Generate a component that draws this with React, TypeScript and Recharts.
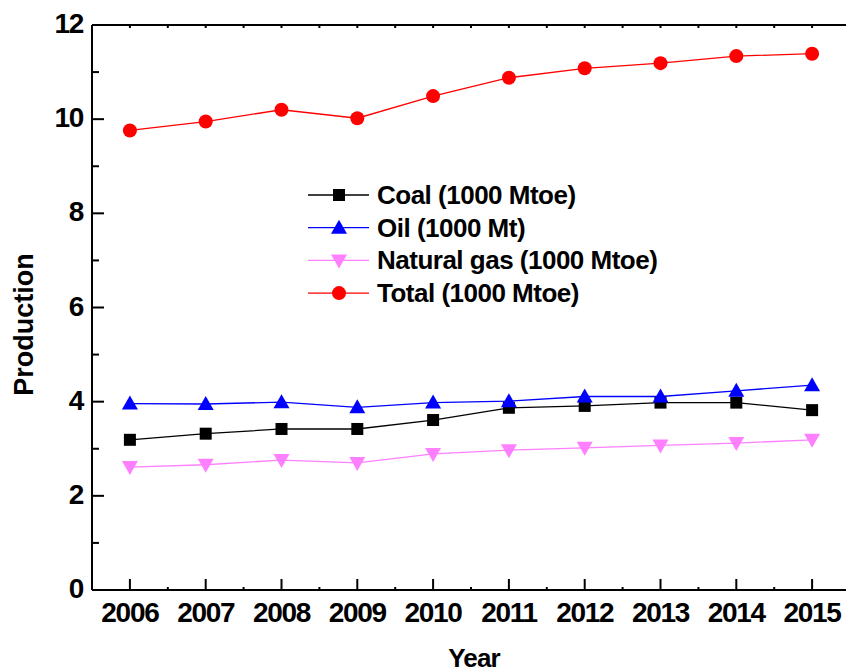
import React from 'react';
import { LineChart, Line, XAxis, YAxis, Legend } from 'recharts';

const years = [2006, 2007, 2008, 2009, 2010, 2011, 2012, 2013, 2014, 2015];
const coal = [3.19, 3.32, 3.42, 3.42, 3.61, 3.87, 3.91, 3.98, 3.98, 3.82];
const oil = [3.96, 3.95, 3.99, 3.88, 3.98, 4.01, 4.11, 4.11, 4.23, 4.35];
const naturalGas = [2.61, 2.66, 2.76, 2.70, 2.89, 2.97, 3.02, 3.07, 3.12, 3.19];
const total = [9.76, 9.95, 10.2, 10.02, 10.49, 10.88, 11.08, 11.19, 11.34, 11.39];

const xTicks = [2006, 2006.5, 2007, 2007.5, 2008, 2008.5, 2009, 2009.5, 2010, 2010.5, 2011, 2011.5, 2012, 2012.5, 2013, 2013.5, 2014, 2014.5, 2015, 2015.5];
const topTicks = [2005.5, ...xTicks];
const yTicks = [0, 1, 2, 3, 4, 5, 6, 7, 8, 9, 10, 11, 12];

const FONT = '"Liberation Sans", Arial, sans-serif';

const series = [
    { key: 'coal', name: 'Coal (1000 Mtoe)', color: '#000000', shape: 'square' },
    { key: 'oil', name: 'Oil (1000 Mt)', color: '#0000ff', shape: 'up' },
    { key: 'gas', name: 'Natural gas (1000 Mtoe)', color: '#ff80ff', shape: 'down' },
    { key: 'total', name: 'Total (1000 Mtoe)', color: '#ff0000', shape: 'circle' },
];

const data = years.map((year, i) => ({
    year,
    coal: coal[i],
    oil: oil[i],
    gas: naturalGas[i],
    total: total[i],
}));

function Marker({ cx, cy, shape, color }: any) {
    if (cx == null || cy == null) return null;
    if (shape === 'square') {
        return <rect x={cx - 6} y={cy - 6} width={12} height={12} fill={color} />;
    }
    if (shape === 'up') {
        return <polygon points={`${cx},${cy - 8} ${cx - 8},${cy + 6} ${cx + 8},${cy + 6}`} fill={color} />;
    }
    if (shape === 'down') {
        return <polygon points={`${cx},${cy + 8} ${cx - 8},${cy - 6} ${cx + 8},${cy - 6}`} fill={color} />;
    }
    return <circle cx={cx} cy={cy} r={7} fill={color} />;
}

function XTick({ x, y, payload }: any) {
    const v = payload.value;
    const major = Number.isInteger(v);
    return (
        <g>
            <line x1={x} x2={x} y1={y} y2={y - (major ? 11 : 3)} stroke="#000" strokeWidth={2} />
            {major && (
                <text x={x} y={y + 32} textAnchor="middle" fontFamily={FONT} fontWeight="bold"
                    fontSize={28} letterSpacing={-1.3} fill="#000">
                    {v}
                </text>
            )}
        </g>
    );
}

function TopTick({ x, y }: any) {
    return <line x1={x} x2={x} y1={y} y2={y + 3} stroke="#000" strokeWidth={2} />;
}

function YTick({ x, y, payload }: any) {
    const v = payload.value;
    const major = v % 2 === 0;
    return (
        <g>
            <line x1={x} x2={x + (major ? 12 : 7)} y1={y} y2={y} stroke="#000" strokeWidth={2} />
            {major && (
                <text x={x - 9} y={y + 8} textAnchor="end" fontFamily={FONT} fontWeight="bold"
                    fontSize={28} letterSpacing={-1.3} fill="#000">
                    {v}
                </text>
            )}
        </g>
    );
}

function LegendBox() {
    return (
        <svg width={380} height={140}>
            {series.map((s, i) => {
                const cy = 20 + i * 32.7;
                return (
                    <g key={s.key}>
                        <line x1={8} x2={69} y1={cy} y2={cy} stroke={s.color} strokeWidth={1.3} />
                        <Marker cx={39} cy={cy} shape={s.shape} color={s.color} />
                        <text x={77} y={cy + 9} fontFamily={FONT} fontWeight="bold" fontSize={26}
                            letterSpacing={-0.5} fill="#000">
                            {s.name}
                        </text>
                    </g>
                );
            })}
        </svg>
    );
}

export default function App() {
    return (
        <div style={{ position: 'absolute', left: 0, top: 0, width: 846, height: 672, background: '#fff' }}>
            <LineChart width={846} height={672} data={data} margin={{ top: 15, right: -4, bottom: 22, left: 32 }}>
                <XAxis
                    dataKey="year"
                    type="number"
                    domain={[2005.5, 2015.5]}
                    ticks={xTicks}
                    interval={0}
                    height={60}
                    tickSize={0}
                    tickMargin={0}
                    tickLine={false}
                    axisLine={{ stroke: '#000', strokeWidth: 2 }}
                    tick={<XTick />}
                    label={{
                        content: ({ viewBox }: any) => (
                            <text x={viewBox.x + viewBox.width / 2 + 3} y={viewBox.y + 77} textAnchor="middle"
                                fontFamily={FONT} fontWeight="bold" fontSize={26} letterSpacing={-0.8} fill="#000">
                                Year
                            </text>
                        ),
                    }}
                />
                <XAxis
                    xAxisId="top"
                    orientation="top"
                    dataKey="year"
                    type="number"
                    domain={[2005.5, 2015.5]}
                    ticks={topTicks}
                    interval={0}
                    height={10}
                    tickSize={0}
                    tickMargin={0}
                    tickLine={false}
                    axisLine={{ stroke: '#000', strokeWidth: 2 }}
                    tick={<TopTick />}
                />
                <YAxis
                    type="number"
                    domain={[0, 12]}
                    ticks={yTicks}
                    interval={0}
                    width={60}
                    tickSize={0}
                    tickMargin={0}
                    tickLine={false}
                    axisLine={{ stroke: '#000', strokeWidth: 2 }}
                    tick={<YTick />}
                    label={{
                        content: ({ viewBox }: any) => {
                            const cx = viewBox.x - 8;
                            const cy = viewBox.y + viewBox.height / 2 + 17;
                            return (
                                <text x={cx} y={cy} transform={`rotate(-90 ${cx} ${cy})`} textAnchor="middle"
                                    dominantBaseline="central" fontFamily={FONT} fontWeight="bold" fontSize={27} fill="#000">
                                    Production
                                </text>
                            );
                        },
                    }}
                />
                <Legend
                    layout="vertical"
                    align="center"
                    verticalAlign="middle"
                    wrapperStyle={{ position: 'absolute', left: 300, top: 175, width: 380, height: 140 }}
                    content={() => <LegendBox />}
                />
                {series.map((s) => (
                    <Line
                        key={s.key}
                        dataKey={s.key}
                        name={s.name}
                        stroke={s.color}
                        strokeWidth={1.3}
                        isAnimationActive={false}
                        dot={(p: any) => <Marker key={`${s.key}-${p.index}`} cx={p.cx} cy={p.cy} shape={s.shape} color={s.color} />}
                        activeDot={false}
                    />
                ))}
            </LineChart>
        </div>
    );
}
